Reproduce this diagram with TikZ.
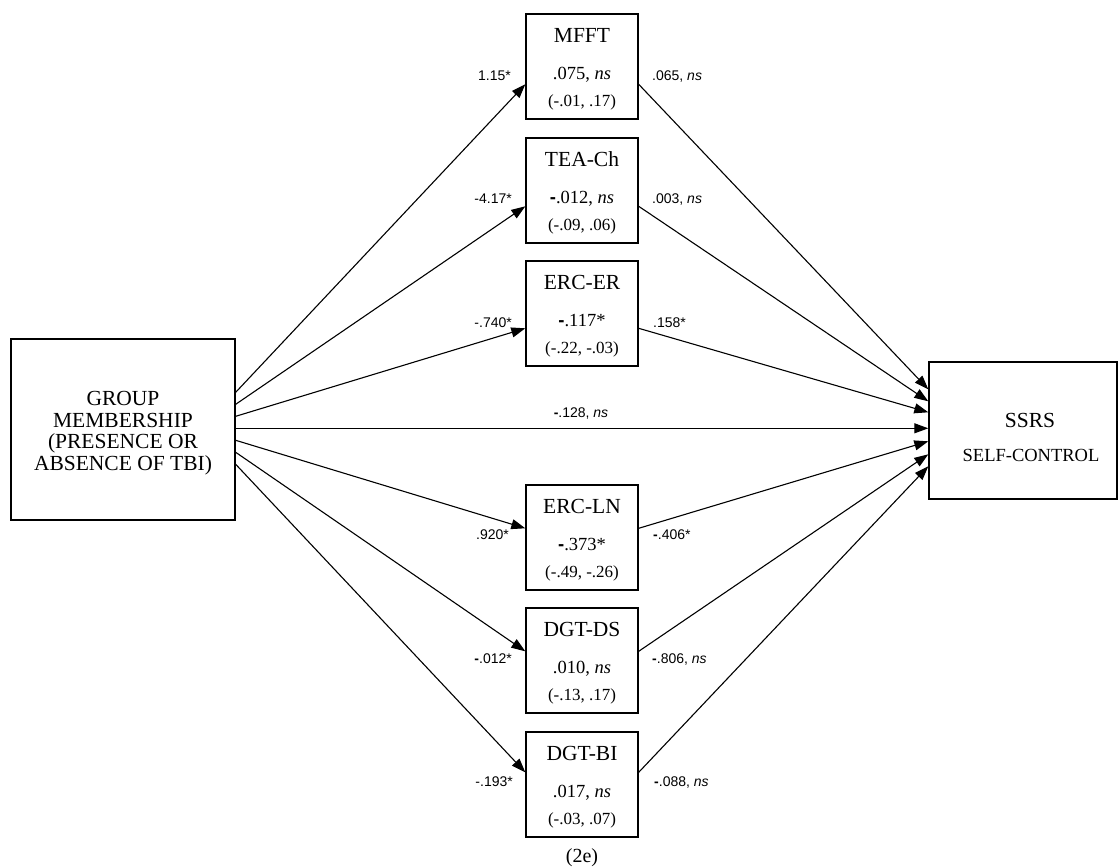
\documentclass[tikz,border=0pt]{standalone}
\usepackage{fontspec}
\setmainfont{Liberation Serif}
\setsansfont{Liberation Sans}
\usetikzlibrary{arrows.meta,calc}

% hyphen used as a minus sign in front of some estimates
\newcommand\boldminus{\textsf{\textbf{-}}}

% a mediator box with its name, indirect effect and confidence interval
\newcommand\measurenode[5]{%
  \node[measure] (#1) at (582,#2) {};
  \node[ttl,anchor=base] (#1-t) at ($(#1.north)+(0,29.5)$) {#3};
  \node[val,anchor=base] (#1-v) at ($(#1.north)+(0,66)$) {#4};
  \node[ci,anchor=base] (#1-c) at ($(#1.north)+(0,93)$) {#5};
}

\begin{document}
\begin{tikzpicture}[x=1pt,y=-1pt,
  box/.style={draw,line width=1.4pt,inner sep=0pt},
  measure/.style={box,minimum width=112pt,minimum height=105pt},
  ttl/.style={font=\fontsize{21.5}{22}\selectfont,inner sep=0pt},
  val/.style={font=\fontsize{18.5}{19}\selectfont,inner sep=0pt},
  ci/.style={font=\fontsize{17}{18}\selectfont,inner sep=0pt},
  coef/.style={font=\sffamily\fontsize{14}{15}\selectfont,inner sep=0pt},
  lcoef/.style={coef,anchor=base east},
  rcoef/.style={coef,anchor=base west},
  link/.style={line width=1.1pt},
  arr/.style={link,-{Triangle[length=14pt,width=10pt]}},
]
\useasboundingbox (0,0) rectangle (1118,867);

% predictor
\node[box,minimum width=224pt,minimum height=181pt] (grp) at (123,429.5) {};
\node[align=center,anchor=north,inner sep=0pt,
      font=\fontsize{21.5}{21.7}\selectfont] (grp-t) at (123,391)
  {GROUP\\MEMBERSHIP\\(PRESENCE OR\\ABSENCE OF TBI)};

% outcome
\node[box,minimum width=188pt,minimum height=137pt] (ssrs) at (1023,430.5) {};
\node[ttl,anchor=base] (ssrs-t) at (1030,427.5) {SSRS};
\node[font=\fontsize{18.5}{19}\selectfont,inner sep=0pt,anchor=base]
  (ssrs-s) at (1031,461) {SELF-CONTROL};

% mediators
\measurenode{mfft}{66.5}{MFFT}{.075, \textit{ns}}{(-.01, .17)}
\measurenode{teach}{190.5}{TEA-Ch}{\boldminus.012, \textit{ns}}{(-.09, .06)}
\measurenode{ercer}{313.5}{ERC-ER}{\boldminus.117*}{(-.22, -.03)}
\measurenode{ercln}{537.5}{ERC-LN}{\boldminus.373*}{(-.49, -.26)}
\measurenode{dgtds}{660.5}{DGT-DS}{.010, \textit{ns}}{(-.13, .17)}
\measurenode{dgtbi}{784.5}{DGT-BI}{.017, \textit{ns}}{(-.03, .07)}

% a paths and b paths
\foreach \n/\a/\b/\c in {mfft/54/71/28, teach/66/69/40, ercer/78/68/51,
                         ercln/102/44/80, dgtds/114/44/93, dgtbi/126/41/105} {
  \draw[arr] ($(grp.north east)+(0,\a)$) -- ($(\n.north west)+(0,\b)$);
  \draw[arr] ($(\n.north east)+(0,\b)$) -- ($(ssrs.north west)+(0,\c)$);
}
% direct effect
\draw[arr] ($(grp.north east)+(0,90)$) -- ($(ssrs.north west)+(0,67)$);

% path coefficients
\node[lcoef] (a1) at (511,80) {1.15*};
\node[rcoef] (b1) at (652,80) {.065, \textit{ns}};
\node[lcoef] (a2) at (512,203.5) {-4.17*};
\node[rcoef] (b2) at (652,203.5) {.003, \textit{ns}};
\node[lcoef] (a3) at (512,327) {-.740*};
\node[rcoef] (b3) at (653,327) {.158*};
\node[coef,anchor=base] (c1) at (581,417) {\textbf{-}.128, \textit{ns}};
\node[lcoef] (a4) at (509,539.5) {.920*};
\node[rcoef] (b4) at (653,539.5) {\textbf{-}.406*};
\node[lcoef] (a5) at (512,663) {\textbf{-}.012*};
\node[rcoef] (b5) at (652,663) {\textbf{-}.806, \textit{ns}};
\node[lcoef] (a6) at (513,786.5) {-.193*};
\node[rcoef] (b6) at (654,786.5) {\textbf{-}.088, \textit{ns}};

% panel label
\node[font=\fontsize{20}{21}\selectfont,inner sep=0pt,anchor=base] (panel) at (582,862) {(2e)};
\end{tikzpicture}
\end{document}
